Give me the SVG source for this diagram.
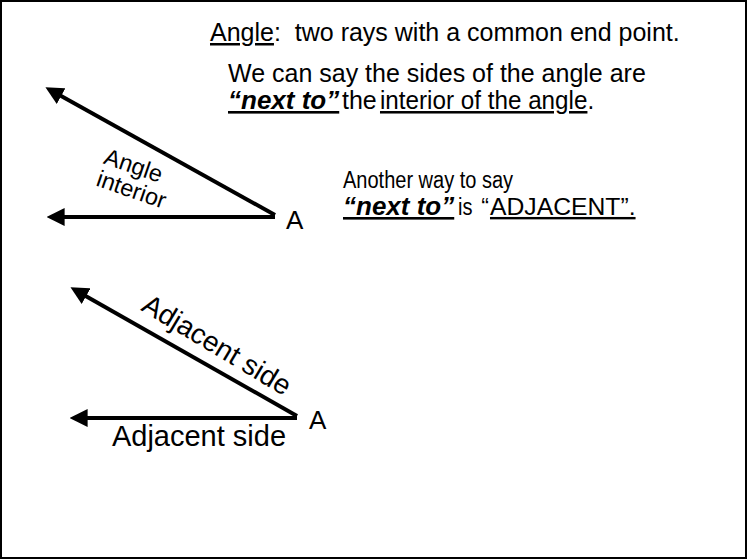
<svg xmlns="http://www.w3.org/2000/svg" width="747" height="559" viewBox="0 0 747 559">
<style>
text{font-family:"Liberation Sans",Arial,sans-serif;fill:#000}
.ray{stroke:#000;stroke-width:4;fill:none;marker-end:url(#ah)}
.u{text-decoration:underline}
.bi{font-weight:bold;font-style:italic;text-decoration:underline}
.pre{white-space:pre}
</style>
<defs>
<marker id="ah" viewBox="0 0 10 10" refX="2" refY="5" markerWidth="18" markerHeight="18" markerUnits="userSpaceOnUse" orient="auto">
<path d="M0,0 L10,5 L0,10 z" fill="#000"/>
</marker>
</defs>
<rect x="1" y="1" width="745" height="557" fill="#fff" stroke="#000" stroke-width="2"/>
<g id="definition">
<text class="pre" x="210" y="41" font-size="25"><tspan class="u">Angle</tspan>:  two rays with a common end point.</text>
</g>
<g id="explanation">
<text x="228" y="82" font-size="25">We can say the sides of the angle are</text>
<text class="bi" x="228" y="109" font-size="26">“next to”</text>
<text x="342" y="109" font-size="25">the</text>
<text x="380" y="109" font-size="25" transform="matrix(0.97 0 0 1 11.4 0)"><tspan class="u">interior of the angle</tspan>.</text>
</g>
<g id="adjacent-note">
<text x="343" y="188" font-size="23" transform="matrix(0.87 0 0 1 44.59 0)">Another way to say</text>
<text class="bi" x="343" y="215" font-size="26">“next to”</text>
<text x="458" y="215" font-size="23" transform="matrix(0.87 0 0 1 59.54 0)">is</text>
<text x="489" y="215" font-size="23" text-anchor="end">“</text>
<text class="u" x="490" y="215" font-size="24" transform="matrix(1.03 0 0 1 -14.7 0)">ADJACENT”.</text>
</g>
<g id="connectors">
<line class="ray" x1="275" y1="215" x2="58" y2="94.3"/>
<line class="ray" x1="275" y1="217" x2="61" y2="217"/>
<line class="ray" x1="297" y1="416" x2="83" y2="294.4"/>
<line class="ray" x1="297" y1="418" x2="84" y2="418"/>
</g>
<g id="angle1">
<text x="286" y="229" font-size="26">A</text>
<text x="131" y="173" font-size="23.5" text-anchor="middle" transform="rotate(19 131 173)">Angle</text>
<text x="129" y="197" font-size="23.5" text-anchor="middle" transform="rotate(19 129 197)">interior</text>
</g>
<g id="angle2">
<text x="309" y="429" font-size="26">A</text>
<text x="199" y="446" font-size="29" text-anchor="middle">Adjacent side</text>
<text x="212" y="353" font-size="28" text-anchor="middle" transform="rotate(31 212 353)">Adjacent side</text>
</g>
</svg>
